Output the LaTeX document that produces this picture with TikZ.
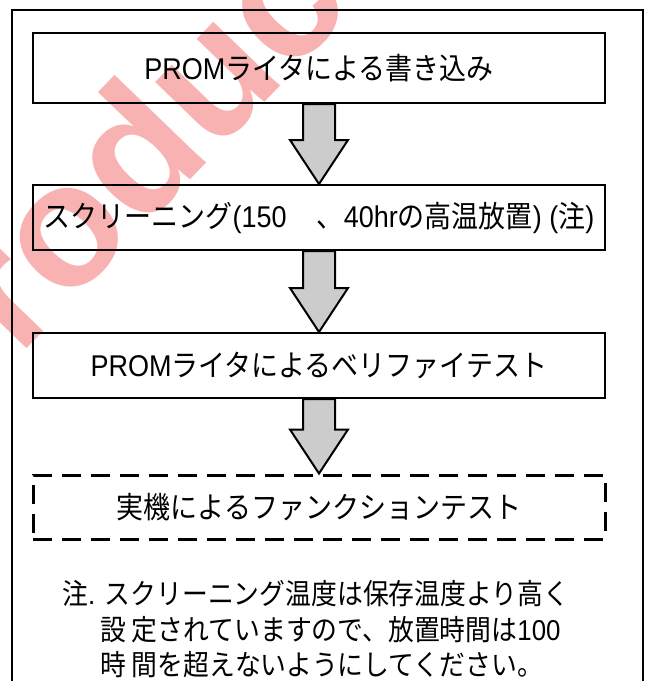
\documentclass[tikz,border=0pt]{standalone}
\usepackage{fontspec}
\setmainfont{Liberation Sans}[FakeStretch=0.9]
\newfontfamily\jp{Noto Sans CJK JP}[FakeStretch=0.9]
\newfontfamily\wmfont{Liberation Sans}
\usetikzlibrary{calc}
\definecolor{arrowgray}{RGB}{204,204,204}
\definecolor{wmred}{RGB}{249,178,178}
\begin{document}
\begin{tikzpicture}[x=1pt,y=-1pt,
  stepbox/.style={draw=black, line width=2pt, minimum width=572pt, inner sep=0pt, font=\fontsize{30}{36}\selectfont},
  dashbox/.style={stepbox, dash pattern=on 19pt off 10pt, line width=3pt},
  bigarrow/.style={draw=black, line width=2pt, fill=arrowgray, line join=miter},
  notetext/.style={anchor=west, inner sep=0pt, font=\fontsize{28.7}{34}\selectfont},
]
\useasboundingbox (0,0) rectangle (647,681);
\begin{scope}
  \clip (0,0) rectangle (647,681);
  \node[rotate=46, text=wmred, font=\wmfont\bfseries\fontsize{175}{175}\selectfont, inner sep=0pt] (wm) at (122,160) {Product};
\end{scope}
\draw[line width=2pt] (12,681) -- (12,10) -- (643,10) -- (643,681);
\node[stepbox, minimum height=70pt] (b1) at (319,68) {PROM{\jp ライタによる書き込み}};
\node[stepbox, minimum height=65pt] (b2) at (319,217.5) {{\jp スクリーニング}(150\hspace{1em}{\jp 、}40hr{\jp の高温放置}) ({\jp 注})};
\node[stepbox, minimum height=65pt] (b3) at (319,365.5) {PROM{\jp ライタによるベリファイテスト}};
\node[dashbox, minimum height=64pt] (b4) at (319,507) {{\jp 実機によるファンクションテスト}};
\foreach \a/\b in {b1/b2, b2/b3, b3/b4}{
  \draw[bigarrow] let \p1=(\a.south), \p2=(\b.north) in
    (\x1-16pt,\y1) -- (\x1-16pt,\y2+44pt) -- (\x1-29pt,\y2+44pt) -- (\x2,\y2)
    -- (\x1+29pt,\y2+44pt) -- (\x1+16pt,\y2+44pt) -- (\x1+16pt,\y1) -- cycle;
}
\node[notetext] (n1) at (62,594) {{\jp 注}. {\jp スクリーニング温度は保存温度より高く}};
\node[notetext] (n2) at (100,630) {{\jp 設 定されていますので、放置時間は}100};
\node[notetext] (n3) at (100,665) {{\jp 時 間を超えないようにしてください。}};
\end{tikzpicture}
\end{document}
